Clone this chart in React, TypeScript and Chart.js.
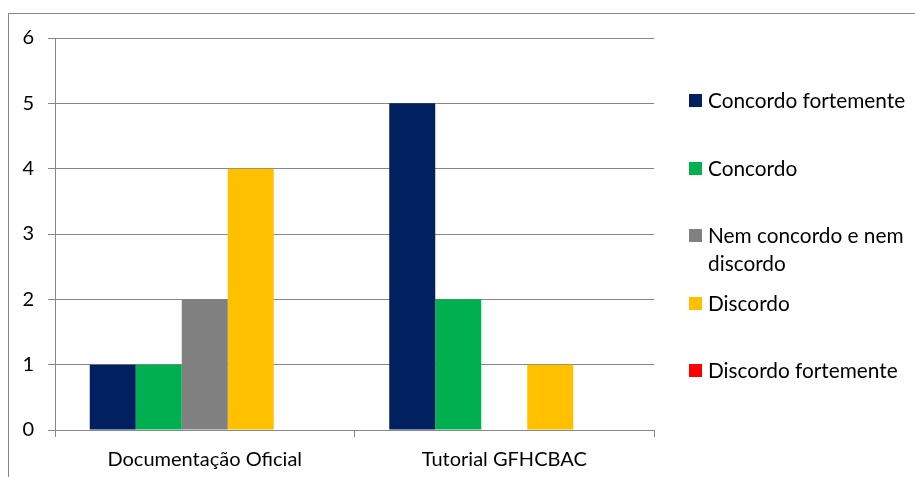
import React, { useEffect, useRef } from "react";
import { Chart, registerables } from "chart.js";

Chart.register(...registerables);

const categories = ["Documentação Oficial", "Tutorial GFHCBAC"];
const seriesNames = [
  "Concordo fortemente",
  "Concordo",
  "Nem concordo e nem discordo",
  "Discordo",
  "Discordo fortemente",
];
const concordoFortemente = [1, 5];
const concordo = [1, 2];
const nemConcordoNemDiscordo = [2, 0];
const discordo = [4, 1];
const discordoFortemente = [0, 0];
const seriesColors = ["#002060", "#00B050", "#808080", "#FFC000", "#FF0000"];
const yTicks = [0, 1, 2, 3, 4, 5, 6];

const FONT = "Lato, 'Open Sans', sans-serif";
const FONT_SIZE = 20;
const LEGEND_FONT_SIZE = 20.8;
const GRID = "#878787";

export default function App() {
  const ref = useRef<HTMLCanvasElement | null>(null);

  useEffect(() => {
    if (!ref.current) return;
    const values = [concordoFortemente, concordo, nemConcordoNemDiscordo, discordo, discordoFortemente];
    const chart = new Chart(ref.current, {
      type: "bar",
      data: {
        labels: categories,
        datasets: seriesNames.map((name, i) => ({
          label: name,
          data: values[i],
          backgroundColor: seriesColors[i],
          borderWidth: 0,
          categoryPercentage: 0.768,
          barPercentage: 1,
        })),
      },
      options: {
        animation: false,
        responsive: false,
        devicePixelRatio: 1,
        layout: { padding: { top: 38, right: 261, left: 0, bottom: 0 } },
        plugins: { legend: { display: false }, tooltip: { enabled: false } },
        scales: {
          x: {
            type: "category",
            offset: true,
            grid: { offset: true, drawOnChartArea: false, drawTicks: true, tickLength: 7, color: GRID },
            border: { color: GRID },
            ticks: { color: "#000", font: { family: FONT, size: FONT_SIZE }, padding: 11, maxRotation: 0 },
            afterFit: (s: any) => { s.height = 47; },
          },
          y: {
            min: yTicks[0],
            max: yTicks[yTicks.length - 1],
            afterBuildTicks: (s: any) => { s.ticks = yTicks.map((v) => ({ value: v })); },
            grid: { color: GRID, tickLength: 7, drawTicks: true },
            border: { color: GRID },
            ticks: { color: "#000", font: { family: FONT, size: FONT_SIZE }, padding: 14 },
            afterFit: (s: any) => { s.width = 55; },
          },
        },
      },
    });
    return () => chart.destroy();
  }, []);

  return (
    <div style={{ position: "absolute", left: 0, top: 0, width: 915, height: 477, background: "#fff", overflow: "hidden" }}>
      <div
        style={{
          position: "absolute",
          left: 8,
          top: 13,
          width: 907,
          height: 464,
          boxSizing: "border-box",
          borderLeft: `1px solid ${GRID}`,
          borderTop: `1px solid ${GRID}`,
        }}
      />
      <canvas ref={ref} width={915} height={477} style={{ position: "absolute", left: 0, top: 0, width: 915, height: 477 }} />
      {seriesNames.map((name, i) => (
        <div
          key={name}
          style={{
            position: "absolute",
            left: 689,
            top: 86 + i * 67.5,
            width: 224,
            display: "flex",
            alignItems: "flex-start",
            fontFamily: FONT,
            fontSize: LEGEND_FONT_SIZE,
            lineHeight: "28px",
            color: "#000",
          }}
        >
          <span style={{ display: "inline-block", width: 13, height: 13, marginTop: 8, marginRight: 6, background: seriesColors[i], flex: "none" }} />
          <span style={{ width: 204 }}>{name}</span>
        </div>
      ))}
    </div>
  );
}
